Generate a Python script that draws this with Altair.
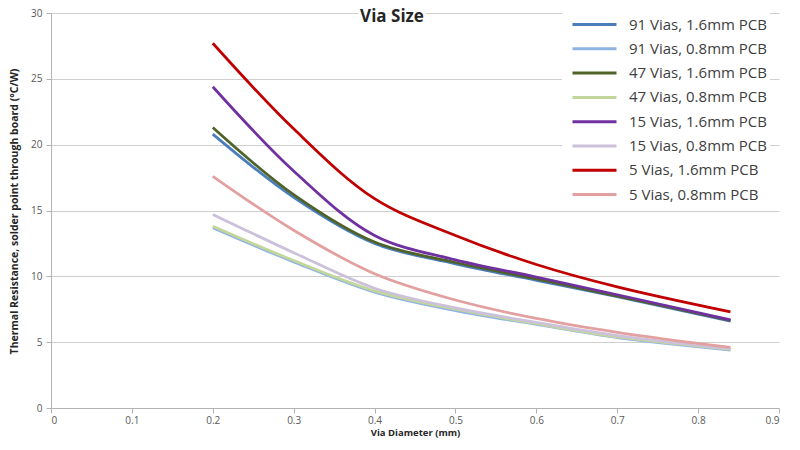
import altair as alt
import pandas as pd

title_text = "Via Size"
x_title = "Via Diameter (mm)"
y_title = "Thermal Resistance, solder point through board (°C/W)"

series_names = [
    "91 Vias, 1.6mm PCB",
    "91 Vias, 0.8mm PCB",
    "47 Vias, 1.6mm PCB",
    "47 Vias, 0.8mm PCB",
    "15 Vias, 1.6mm PCB",
    "15 Vias, 0.8mm PCB",
    "5 Vias, 1.6mm PCB",
    "5 Vias, 0.8mm PCB",
]
series_colors = [
    "#4A7EBB", "#8EB4E3", "#4F6228", "#C3D69B",
    "#7030A0", "#CCC1DA", "#C00000", "#E2A0A0",
]

diameters = [0.2, 0.3, 0.4, 0.5, 0.6, 0.7, 0.84]

v91_16 = [20.8, 16.0, 12.5, 10.95, 9.7, 8.45, 6.6]
v91_08 = [13.7, 11.1, 8.8, 7.4, 6.35, 5.35, 4.4]
v47_16 = [21.3, 16.2, 12.6, 11.05, 9.8, 8.5, 6.65]
v47_08 = [13.8, 11.2, 8.9, 7.5, 6.4, 5.4, 4.45]
v15_16 = [24.4, 18.0, 13.1, 11.25, 9.95, 8.6, 6.7]
v15_08 = [14.7, 11.8, 9.1, 7.6, 6.5, 5.5, 4.5]
v5_16 = [27.7, 21.2, 15.9, 13.1, 10.9, 9.2, 7.3]
v5_08 = [17.6, 13.5, 10.2, 8.2, 6.8, 5.75, 4.6]

series_values = [v91_16, v91_08, v47_16, v47_08, v15_16, v15_08, v5_16, v5_08]

x_ticks = [0, 0.1, 0.2, 0.3, 0.4, 0.5, 0.6, 0.7, 0.8, 0.9]
y_ticks = [0, 5, 10, 15, 20, 25, 30]

rows = []
for name, vals in zip(series_names, series_values):
    for d, v in zip(diameters, vals):
        rows.append({"series": name, "diameter": d, "resistance": v})
df = pd.DataFrame(rows)

font = "Open Sans"

lines = alt.Chart(df).mark_line(interpolate="catmull-rom", strokeWidth=2.75).encode(
    x=alt.X(
        "diameter:Q",
        scale=alt.Scale(domain=[0, 0.9], nice=False, zero=False),
        axis=alt.Axis(
            values=x_ticks, format="~g", title=x_title, grid=False,
            tickSize=5, labelPadding=2,
            titleX=364, titleY=27.5, titleAlign="center", titleBaseline="alphabetic",
        ),
    ),
    y=alt.Y(
        "resistance:Q",
        scale=alt.Scale(domain=[0, 30], nice=False),
        axis=alt.Axis(
            values=y_ticks, title=y_title, grid=True, tickSize=5, labelPadding=4,
            titleX=-37, titleY=198, titleAngle=270, titleAlign="center",
            titleBaseline="middle", titleFontSize=10.5,
        ),
    ),
    color=alt.Color(
        "series:N",
        sort=series_names,
        scale=alt.Scale(domain=series_names, range=series_colors),
        legend=alt.Legend(
            title=None, orient="none", legendX=511, legendY=-2.5, padding=3,
            fillColor="white", symbolType="stroke", symbolSize=1936,
            symbolStrokeWidth=3, clipHeight=22, rowPadding=2.3,
            labelFont=font, labelFontSize=15, labelColor="#404040",
            labelOffset=11, symbolOffset=6, labelLimit=300,
        ),
    ),
)

title_df = pd.DataFrame({"label": [title_text]})
halo = alt.Chart(title_df).mark_text(
    font=font, fontSize=17, fontWeight="bold", stroke="white", strokeWidth=6,
    fill="white", align="center", baseline="alphabetic",
).encode(x=alt.value(341), y=alt.value(8.5), text="label:N")
title_mark = alt.Chart(title_df).mark_text(
    font=font, fontSize=17, fontWeight="bold", color="#262626",
    align="center", baseline="alphabetic",
).encode(x=alt.value(341), y=alt.value(8.5), text="label:N")

chart = alt.layer(lines, halo, title_mark).properties(
    width=728, height=395,
    padding={"left": 43, "top": 5, "right": 13, "bottom": 30},
    autosize=alt.AutoSizeParams(type="none"),
).configure_view(strokeWidth=0).configure_axis(
    domainColor="#B3B3B3", tickColor="#B3B3B3", gridColor="#CFCFCF",
    labelColor="#595959", labelFont=font, labelFontSize=10,
    titleFont=font, titleFontSize=9.5, titleFontWeight="bold", titleColor="#262626",
)

chart.save("out.html", embed_options={"renderer": "svg", "actions": False})
